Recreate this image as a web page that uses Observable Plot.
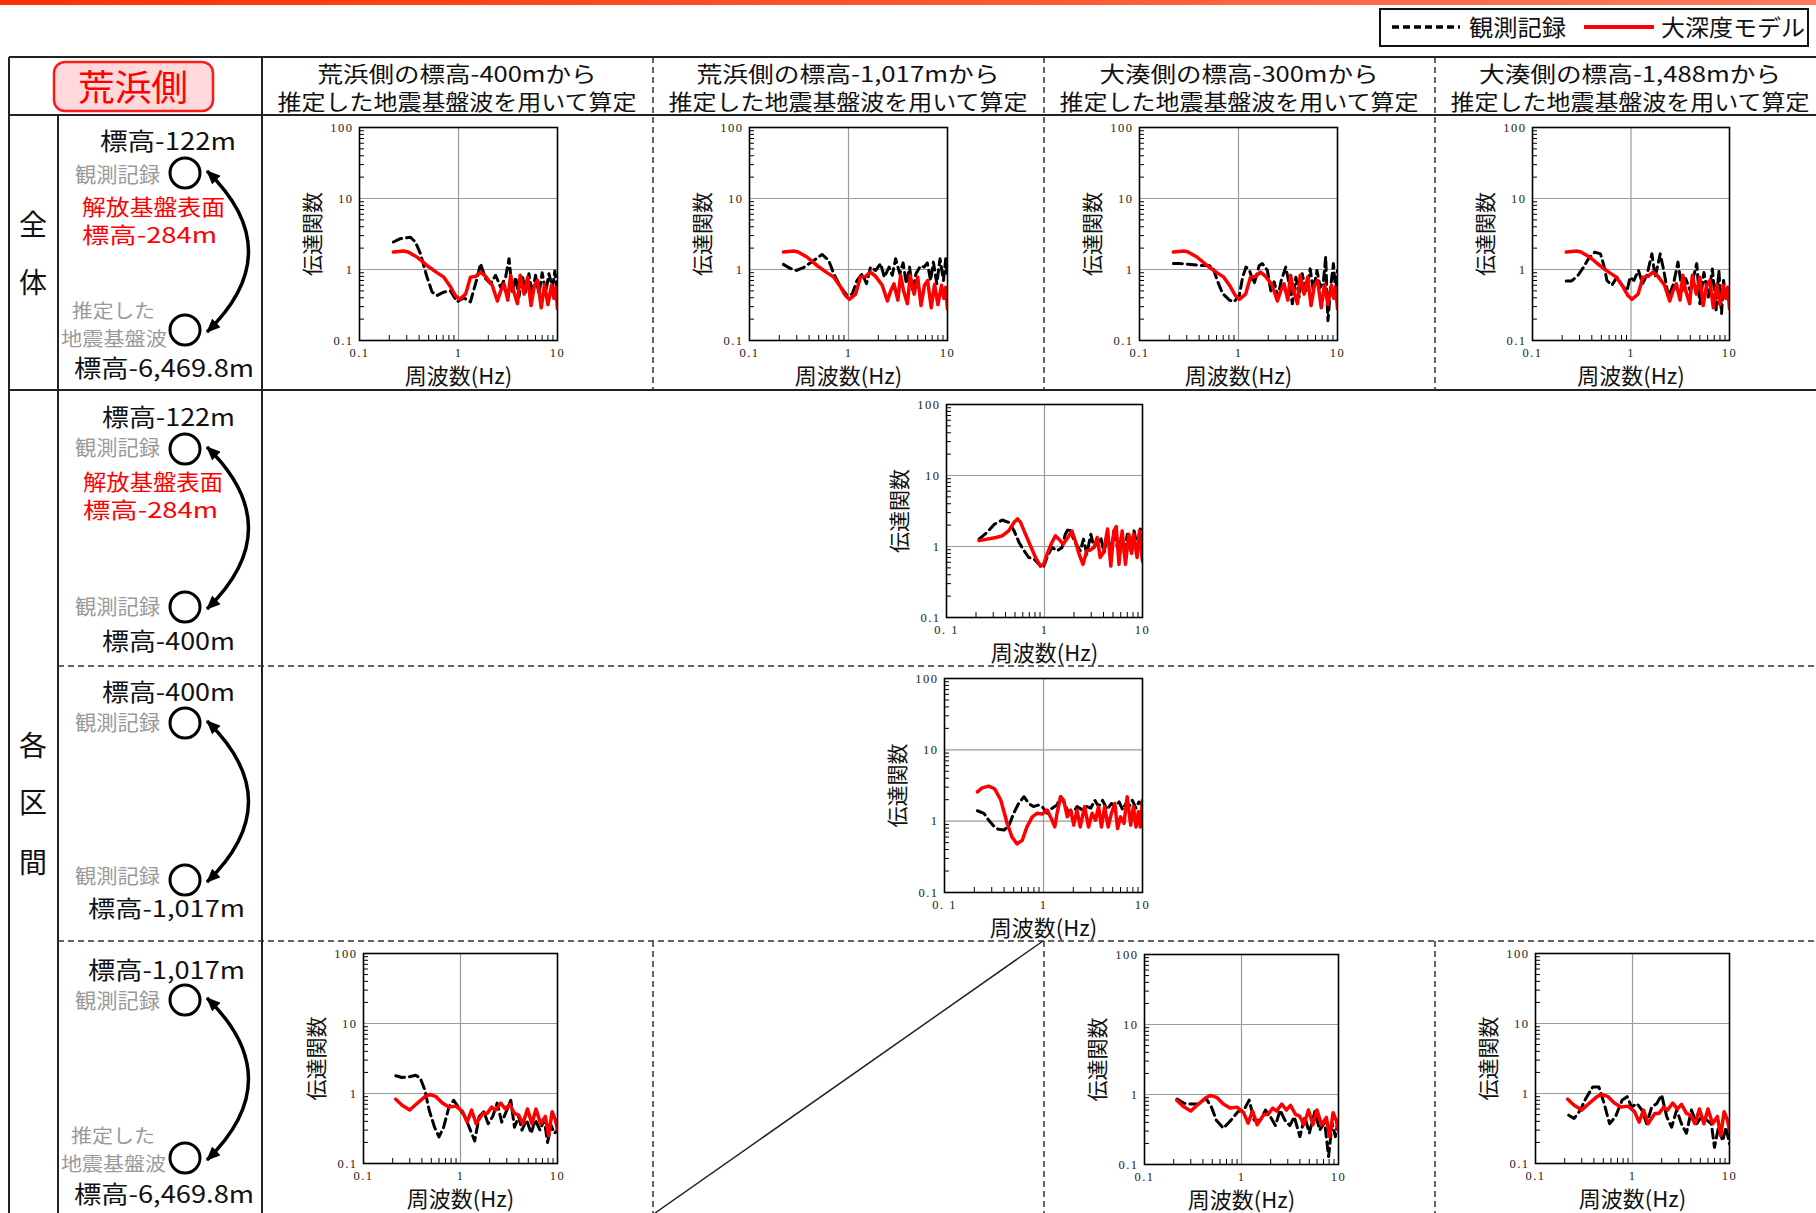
<!DOCTYPE html>
<html><head><meta charset="utf-8">
<script src="https://cdn.jsdelivr.net/npm/d3@7"></script>
<script src="https://cdn.jsdelivr.net/npm/@observablehq/plot@0.6"></script>
<style>
html,body{margin:0;padding:0;background:#fff;}
#page{position:relative;width:1816px;height:1213px;overflow:hidden;font-family:'Noto Sans CJK JP',sans-serif;}
#topbar{position:absolute;left:0;top:0;width:1816px;height:5px;background:linear-gradient(to right,#ff3000,#ff7a5c);}
#deco{position:absolute;left:0;top:0;}
.chart{position:absolute;}
</style></head>
<body><div id="page"><div id="topbar"></div></div>
<script>
// ---------- tick values / labels ----------
const freqTicks = [0.1, 1, 10];
const gainTicks = [0.1, 1, 10, 100];
const xTickLabelsA = ["0.1", "1", "10"];
const xTickLabelsB = ["0. 1", "1", "10"];
const yTickLabels = ["0.1", "1", "10", "100"];
const minorX = [0.2,0.3,0.4,0.5,0.6,0.7,0.8,0.9,2,3,4,5,6,7,8,9];
const minorY = [0.2,0.3,0.4,0.5,0.6,0.7,0.8,0.9,2,3,4,5,6,7,8,9,20,30,40,50,60,70,80,90];

// ---------- series: [frequency Hz, transfer function] ----------
// 全体 (標高-122m / 標高-6,469.8m)
const obsAll400 = [[0.22,2.44],[0.258,2.72],[0.327,2.85],[0.367,2.44],[0.412,1.67],[0.481,0.78],[0.541,0.48],[0.608,0.43],[0.71,0.48],[0.83,0.5],[0.97,0.35],[1.13,0.4],[1.32,0.35],[1.55,0.78],[1.67,1.21],[1.88,0.74],[2.11,0.63],[2.37,0.83],[2.67,0.56],[2.99,0.78],[3.24,1.42],[3.5,0.48],[3.79,0.78],[4.08,0.41],[4.4,0.83],[4.76,0.48],[5.14,0.87],[5.56,0.43],[6.0,0.83],[6.5,0.45],[7.0,0.9],[7.6,0.48],[8.2,0.87],[8.9,0.56],[9.4,0.95],[10,0.48]];
const obsAll1017 = [[0.22,1.18],[0.26,1.03],[0.30,0.97],[0.35,1.06],[0.45,1.35],[0.54,1.63],[0.63,1.35],[0.71,0.87],[0.83,0.57],[0.97,0.43],[1.09,0.45],[1.22,0.70],[1.38,0.87],[1.52,0.63],[1.67,1.08],[1.88,0.97],[2.11,1.21],[2.3,0.78],[2.57,1.08],[2.77,0.83],[2.99,1.42],[3.3,0.87],[3.56,1.24],[3.84,0.63],[4.14,1.08],[4.47,0.48],[4.8,0.87],[5.35,1.13],[5.8,1.08],[6.25,1.24],[6.75,0.70],[7.2,1.27],[7.8,0.63],[8.4,1.42],[9.1,0.70],[9.6,1.42],[10,0.78]];
const obsAll300 = [[0.22,1.21],[0.26,1.21],[0.33,1.18],[0.42,1.14],[0.5,1.14],[0.55,1.08],[0.61,0.7],[0.69,0.46],[0.81,0.37],[0.9,0.35],[1.02,0.43],[1.1,0.78],[1.19,1.08],[1.29,0.97],[1.44,0.63],[1.62,1.14],[1.74,1.21],[1.96,0.97],[2.12,0.5],[2.29,0.67],[2.5,0.41],[2.7,0.7],[3.0,1.08],[3.3,0.56],[3.5,0.33],[3.8,0.78],[4.1,0.41],[4.4,0.87],[4.8,0.5],[5.3,1.02],[5.7,0.5],[6.2,0.97],[6.7,0.56],[7.2,0.67],[7.6,1.5],[8.0,0.19],[8.6,0.63],[9.1,1.21],[9.6,0.46],[10,0.97]];
const obsAll1488 = [[0.22,0.69],[0.25,0.69],[0.29,0.83],[0.33,1.08],[0.37,1.42],[0.43,1.76],[0.49,1.66],[0.53,1.14],[0.57,0.7],[0.64,0.6],[0.72,0.78],[0.81,0.6],[0.91,0.5],[0.98,0.78],[1.07,0.7],[1.19,0.97],[1.31,0.63],[1.45,0.83],[1.63,1.66],[1.76,0.78],[1.98,1.66],[2.15,0.97],[2.4,0.41],[2.7,0.63],[3.0,1.27],[3.3,0.5],[3.6,0.74],[4.0,0.5],[4.3,0.78],[4.65,1.21],[5.0,0.33],[5.5,0.91],[6.1,0.41],[6.7,1.02],[7.3,0.27],[7.8,0.97],[8.3,0.24],[8.7,0.7],[9.2,0.41],[10,0.56]];
const modelAll = [[0.22,1.76],[0.28,1.82],[0.31,1.76],[0.38,1.5],[0.48,1.14],[0.6,0.91],[0.71,0.78],[0.83,0.57],[0.93,0.43],[1.02,0.38],[1.18,0.45],[1.32,0.78],[1.49,0.8],[1.67,0.92],[1.88,0.8],[2.19,0.6],[2.47,0.36],[2.67,0.5],[2.88,0.63],[3.15,0.37],[3.36,0.83],[3.6,0.5],[3.94,0.33],[4.2,0.83],[4.6,0.45],[5.0,0.78],[5.4,0.31],[5.85,0.6],[6.3,0.7],[6.85,0.29],[7.4,0.62],[8.0,0.32],[8.7,0.6],[9.2,0.39],[9.6,0.56],[10,0.28]];
// 各区間 (標高-122m / 標高-400m)
const obsSeg1 = [[0.215,1.27],[0.26,1.59],[0.31,2.07],[0.37,2.36],[0.43,2.19],[0.49,1.66],[0.55,1.14],[0.62,0.87],[0.69,0.70],[0.78,0.67],[0.91,0.53],[0.97,0.5],[1.06,0.70],[1.19,0.97],[1.35,0.87],[1.51,0.97],[1.63,1.49],[1.77,1.83],[1.95,1.34],[2.11,1.08],[2.32,0.87],[2.5,1.27],[2.7,0.78],[2.97,1.49],[3.2,0.97],[3.5,1.14],[3.75,1.34],[4.05,0.82],[4.4,1.49],[4.75,0.87],[5.15,1.66],[5.55,0.97],[6.0,1.34],[6.5,0.82],[7.0,1.49],[7.6,0.87],[8.2,1.66],[8.9,0.97],[9.5,1.76],[10,1.2]];
const modelSeg1 = [[0.215,1.21],[0.26,1.27],[0.32,1.34],[0.37,1.41],[0.43,1.66],[0.49,2.19],[0.53,2.45],[0.57,2.19],[0.64,1.49],[0.72,1.02],[0.81,0.70],[0.91,0.53],[0.98,0.56],[1.07,0.8],[1.19,1.14],[1.29,1.41],[1.4,1.27],[1.55,1.08],[1.73,1.34],[1.9,1.66],[2.06,1.2],[2.24,0.8],[2.47,0.56],[2.7,0.87],[2.93,0.89],[3.2,0.97],[3.45,1.34],[3.7,0.70],[4.0,0.82],[4.4,1.76],[4.75,0.53],[5.1,1.66],[5.4,1.9],[5.75,0.56],[6.2,1.66],[6.7,0.56],[7.25,1.49],[7.75,0.8],[8.1,1.49],[8.8,0.7],[9.3,1.66],[10,0.62]];
// 各区間 (標高-400m / 標高-1,017m)
const obsSeg2 = [[0.215,1.4],[0.25,1.29],[0.28,1.03],[0.32,0.83],[0.35,0.77],[0.40,0.75],[0.45,0.88],[0.50,1.29],[0.56,1.77],[0.635,2.2],[0.71,1.77],[0.79,1.6],[0.88,1.68],[0.97,1.6],[1.09,1.29],[1.22,1.52],[1.37,1.68],[1.49,2.2],[1.63,1.77],[1.8,1.29],[2.02,1.36],[2.18,1.6],[2.45,1.45],[2.75,1.6],[3.0,1.52],[3.3,1.96],[3.6,1.6],[3.95,1.96],[4.4,1.45],[4.85,1.77],[5.25,1.6],[5.8,1.86],[6.3,1.45],[6.8,1.77],[7.3,1.6],[7.9,1.96],[8.6,1.52],[9.2,1.86],[10,1.68]];
const modelSeg2 = [[0.215,2.58],[0.24,2.93],[0.28,3.1],[0.32,2.85],[0.37,1.98],[0.43,0.93],[0.48,0.6],[0.54,0.48],[0.61,0.54],[0.68,0.83],[0.77,1.15],[0.86,1.29],[0.97,1.26],[1.09,1.43],[1.22,1.03],[1.3,0.83],[1.37,1.29],[1.49,2.2],[1.6,1.96],[1.74,1.15],[1.88,1.43],[2.02,0.88],[2.18,1.43],[2.35,0.83],[2.6,1.6],[2.85,0.83],[3.1,1.29],[3.35,1.03],[3.6,1.6],[3.85,0.83],[4.15,1.6],[4.5,0.83],[4.85,1.29],[5.25,1.77],[5.6,0.79],[6.0,1.15],[6.5,0.93],[7.0,2.2],[7.6,0.88],[8.1,1.6],[8.6,0.83],[9.1,1.36],[9.5,0.83],[10,1.96]];
// 各区間 (標高-1,017m / 標高-6,469.8m)
const obsDeep400 = [[0.215,1.79],[0.25,1.69],[0.295,1.73],[0.345,1.82],[0.385,1.66],[0.43,1.11],[0.475,0.58],[0.54,0.33],[0.6,0.24],[0.67,0.33],[0.76,0.64],[0.85,0.8],[0.95,0.64],[1.11,0.47],[1.23,0.33],[1.4,0.21],[1.56,0.47],[1.74,0.55],[1.93,0.37],[2.15,0.47],[2.39,0.73],[2.66,0.39],[2.96,0.55],[3.3,0.8],[3.6,0.33],[3.98,0.47],[4.3,0.3],[4.8,0.42],[5.35,0.27],[5.9,0.42],[6.6,0.3],[7.3,0.42],[7.9,0.2],[8.6,0.35],[9.3,0.27],[10,0.3]];
const obsDeep300 = [[0.217,0.86],[0.255,0.75],[0.3,0.73],[0.36,0.73],[0.43,0.88],[0.49,0.66],[0.55,0.43],[0.65,0.33],[0.78,0.43],[0.92,0.57],[1.06,0.6],[1.2,0.83],[1.35,0.43],[1.57,0.43],[1.77,0.6],[1.99,0.48],[2.24,0.36],[2.5,0.6],[2.8,0.43],[3.15,0.36],[3.5,0.48],[4.0,0.25],[4.5,0.48],[5.0,0.28],[5.7,0.57],[6.4,0.31],[7.2,0.4],[7.9,0.13],[8.6,0.39],[9.3,0.25],[10,0.48]];
const obsDeep1488 = [[0.22,0.49],[0.25,0.44],[0.29,0.58],[0.33,0.85],[0.39,1.24],[0.45,1.24],[0.51,0.72],[0.58,0.37],[0.67,0.47],[0.78,0.8],[0.88,0.9],[0.98,0.64],[1.11,0.72],[1.25,0.58],[1.4,0.37],[1.58,0.64],[1.78,0.72],[2.0,0.95],[2.25,0.47],[2.53,0.33],[2.85,0.58],[3.2,0.37],[3.6,0.27],[4.05,0.58],[4.6,0.37],[5.15,0.47],[5.8,0.42],[6.5,0.37],[7.0,0.17],[7.7,0.33],[8.5,0.21],[9.2,0.33],[10,0.19]];
const modelDeep = [[0.215,0.83],[0.25,0.68],[0.30,0.58],[0.36,0.73],[0.43,0.9],[0.48,0.97],[0.56,0.9],[0.65,0.73],[0.76,0.64],[0.9,0.66],[1.05,0.55],[1.17,0.39],[1.3,0.58],[1.45,0.37],[1.7,0.52],[1.88,0.52],[2.1,0.64],[2.3,0.58],[2.6,0.73],[2.9,0.6],[3.2,0.7],[3.6,0.52],[3.98,0.49],[4.4,0.37],[4.9,0.6],[5.45,0.37],[6.0,0.6],[6.7,0.37],[7.5,0.47],[8.1,0.25],[8.8,0.55],[9.5,0.42],[10,0.3]];

// ---------- chart placement (frame left/top/size in page px) ----------
const charts = [
  {left:359, top:127, w:198, h:213, obs:obsAll400,  model:modelAll,  xl:xTickLabelsA},
  {left:749, top:127, w:198, h:213, obs:obsAll1017, model:modelAll,  xl:xTickLabelsA},
  {left:1139,top:127, w:198, h:213, obs:obsAll300,  model:modelAll,  xl:xTickLabelsA},
  {left:1532,top:127, w:197, h:213, obs:obsAll1488, model:modelAll,  xl:xTickLabelsA},
  {left:946, top:404, w:196, h:213, obs:obsSeg1,    model:modelSeg1, xl:xTickLabelsB},
  {left:944, top:678, w:198, h:214, obs:obsSeg2,    model:modelSeg2, xl:xTickLabelsB},
  {left:363, top:953, w:194, h:210, obs:obsDeep400, model:modelDeep, xl:xTickLabelsA},
  {left:1144,top:954, w:194, h:210, obs:obsDeep300, model:modelDeep, xl:xTickLabelsA},
  {left:1535,top:953, w:194, h:210, obs:obsDeep1488,model:modelDeep, xl:xTickLabelsA}
];

const page = document.getElementById("page");
const CJK = "'Noto Sans CJK JP','Noto Sans CJK SC',sans-serif";
const SERIF = "'Liberation Serif','DejaVu Serif',serif";

// ---------- table, annotations, legend ----------
const T = (x0, x1, y, size, color, s) =>
  `<text x="${x0}" y="${y - 2}" dominant-baseline="central" font-size="${size}" fill="${color}" textLength="${x1 - x0}" lengthAdjust="spacingAndGlyphs">${s}</text>`;
const TC = (cx, w, y, size, color, s) => T(cx - w / 2, cx + w / 2, y, size, color, s);
const G = "#9a9a9a", R = "#ff0000", K = "#111";
let s = `<svg id="deco" width="1816" height="1213" font-family="${CJK}">
<defs><marker id="ah" viewBox="0 0 14 12" refX="13" refY="6" markerWidth="14" markerHeight="12" markerUnits="userSpaceOnUse" orient="auto-start-reverse"><path d="M0,0 L14,6 L0,12 z" fill="#000"/></marker></defs>
<g stroke="#222" stroke-width="2" fill="none">
<path d="M9,57H1816M9,115H1816M9,390H1816M9,57V1213M58,115V1213M262,57V1213"/>
</g>
<g stroke="#333" stroke-width="1.5" stroke-dasharray="6,4" fill="none">
<path d="M653,57V390M1044,57V390M1435,57V390M653,941V1213M1044,941V1213M1435,941V1213M58,666H1816M58,941H1816"/>
</g>
<path d="M1043,941L655,1213" stroke="#222" stroke-width="1.5"/>
<rect x="54" y="62" width="159" height="49" rx="11" fill="#ffd9dc" stroke="#ff1a1a" stroke-width="2.5"/>
${T(78, 188, 87, 36, R, "荒浜側")}
${TC(457, 279, 74, 21.5, K, "荒浜側の標高-400mから")}${TC(457, 359, 102, 21.5, K, "推定した地震基盤波を用いて算定")}
${TC(848, 303, 74, 21.5, K, "荒浜側の標高-1,017mから")}${TC(848, 359, 102, 21.5, K, "推定した地震基盤波を用いて算定")}
${TC(1239, 279, 74, 21.5, K, "大湊側の標高-300mから")}${TC(1239, 359, 102, 21.5, K, "推定した地震基盤波を用いて算定")}
${TC(1630, 302, 74, 21.5, K, "大湊側の標高-1,488mから")}${TC(1630, 359, 102, 21.5, K, "推定した地震基盤波を用いて算定")}
<g font-size="28" fill="#111" text-anchor="middle" dominant-baseline="central">
<text x="33" y="223">全</text><text x="33" y="281">体</text>
<text x="33" y="744">各</text><text x="33" y="801">区</text><text x="33" y="861">間</text>
</g>
<rect x="1380" y="9" width="428" height="37" fill="#fff" stroke="#111" stroke-width="2"/>
<path d="M1392,27H1460" stroke="#000" stroke-width="3.5" stroke-dasharray="7,4"/>
${T(1469, 1566, 28, 23, K, "観測記録")}
<path d="M1584,27H1654" stroke="#ff0000" stroke-width="4"/>
${T(1661, 1805, 28, 23, K, "大深度モデル")}
`;
s += T(100, 236, 141, 24, K, "標高-122m") + T(75, 160, 175, 21, G, "観測記録")
   + T(82, 225, 207, 21.5, R, "解放基盤表面") + T(82, 217, 235, 21.5, R, "標高-284m")
   + T(72, 155, 311, 19, G, "推定した") + T(61, 167, 339, 19, G, "地震基盤波")
   + T(74, 254, 368, 24, K, "標高-6,469.8m");
s += T(102, 235, 417, 24, K, "標高-122m") + T(75, 160, 448, 21, G, "観測記録")
   + T(83, 223, 482, 21.5, R, "解放基盤表面") + T(83, 218, 510, 21.5, R, "標高-284m")
   + T(75, 160, 607, 21, G, "観測記録") + T(102, 235, 641, 24, K, "標高-400m");
s += T(102, 235, 692, 24, K, "標高-400m") + T(75, 160, 723, 21, G, "観測記録")
   + T(75, 160, 877, 20, G, "観測記録") + T(88, 245, 909, 23, K, "標高-1,017m");
s += T(88, 245, 970, 24, K, "標高-1,017m") + T(75, 160, 1001, 21, G, "観測記録")
   + T(71, 155, 1136, 19, G, "推定した") + T(61, 166, 1164, 19, G, "地震基盤波")
   + T(74, 254, 1194, 24, K, "標高-6,469.8m");
const pairs = [[173, 330], [449, 607], [723, 880], [1000, 1158]];
for (const [y1, y2] of pairs) {
  s += `<circle cx="185" cy="${y1}" r="15" fill="none" stroke="#000" stroke-width="3"/>`;
  s += `<circle cx="185" cy="${y2}" r="15" fill="none" stroke="#000" stroke-width="3"/>`;
  s += `<path d="M207,${y1 - 2} Q290,${(y1 + y2) / 2} 207,${y2 + 2}" fill="none" stroke="#000" stroke-width="3.5" marker-start="url(#ah)" marker-end="url(#ah)"/>`;
}
s += `</svg>`;
page.insertAdjacentHTML("beforeend", s);

// ---------- charts ----------
const mL = 80, mR = 20, mT = 12, mB = 52;
for (const c of charts) {
  const svg = Plot.plot({
    width: c.w + mL + mR, height: c.h + mT + mB,
    marginLeft: mL, marginRight: mR, marginTop: mT, marginBottom: mB,
    x: {type: "log", domain: [0.1, 10]},
    y: {type: "log", domain: [0.1, 100]},
    style: {background: "none", overflow: "visible", fontFamily: CJK, color: "#000"},
    marks: [
      Plot.ruleX([1], {stroke: "#9a9a9a", strokeWidth: 1.2}),
      Plot.ruleY([1, 10], {stroke: "#9a9a9a", strokeWidth: 1.2}),
      Plot.tickY(minorY, {y: d => d, insetRight: c.w - 5, stroke: "#000", strokeWidth: 1}),
      Plot.tickX(minorX, {x: d => d, insetTop: c.h - 5, stroke: "#000", strokeWidth: 1}),
      Plot.line(c.obs, {x: d => d[0], y: d => d[1], stroke: "#000", strokeWidth: 3, strokeDasharray: "9,5", clip: true}),
      Plot.line(c.model, {x: d => d[0], y: d => d[1], stroke: "#ff0000", strokeWidth: 3.5, clip: true}),
      Plot.frame({stroke: "#000", strokeWidth: 1.6}),
      Plot.axisX({ticks: freqTicks, tickSize: 0, tickPadding: 8, label: null,
        tickFormat: d => c.xl[freqTicks.indexOf(d)]}),
      Plot.axisY({ticks: gainTicks, tickSize: 0, tickPadding: 6, label: null,
        tickFormat: d => yTickLabels[gainTicks.indexOf(d)]}),
      Plot.text(["伝達関数"], {text: d => d, frameAnchor: "left", textAnchor: "middle", lineAnchor: "middle", dx: -46, rotate: -90, fontSize: 21, fill: "#111"}),
      Plot.text(["周波数(Hz)"], {text: d => d, frameAnchor: "bottom", textAnchor: "middle", lineAnchor: "middle", dy: 36, fontSize: 22, fill: "#111"})
    ]
  });
  svg.querySelectorAll('g[aria-label$="tick label"]').forEach(g => {
    g.setAttribute("letter-spacing", "1.5");
    g.style.fontSize = "12.5px";
    g.style.fontFamily = SERIF;
    g.style.fill = "#222";
  });
  svg.classList.add("chart");
  svg.style.left = (c.left - mL) + "px";
  svg.style.top = (c.top - mT) + "px";
  page.appendChild(svg);
}
</script>
</body></html>
